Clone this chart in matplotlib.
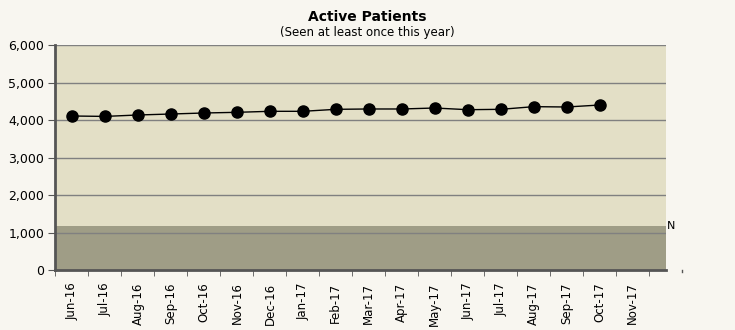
import numpy as np
import matplotlib.pyplot as plt
from matplotlib.ticker import FuncFormatter, FixedLocator

months = ["Jun-16", "Jul-16", "Aug-16", "Sep-16", "Oct-16", "Nov-16", "Dec-16",
          "Jan-17", "Feb-17", "Mar-17", "Apr-17", "May-17", "Jun-17", "Jul-17",
          "Aug-17", "Sep-17", "Oct-17", "Nov-17"]
active = [4107, 4096, 4134, 4160, 4187, 4205, 4232, 4232, 4285, 4294,
          4294, 4320, 4275, 4285, 4356, 4347, 4400]
threshold = 1173
y_ticks = [0, 1000, 2000, 3000, 4000, 5000, 6000]

fig = plt.figure(figsize=(7.35, 3.30), dpi=100)
fig.patch.set_facecolor("#f8f6f0")
ax = fig.add_axes([0.0755, 0.1818, 0.8302, 0.6818])
ax.set_facecolor("#e3dfc6")

x = np.arange(len(active))
ax.axhspan(0, threshold, color="#9f9d86", zorder=1, lw=0)
for v in y_ticks[1:]:
    ax.axhline(v, color="#808080", lw=1, zorder=2)
ax.plot(x, active, "-", color="black", lw=1, zorder=3)
ax.plot(x, active, "o", color="black", ms=8, zorder=4)

ax.set_xlim(-0.5, 18.0)
ax.set_ylim(0, 6000)
ax.set_yticks(y_ticks)
ax.yaxis.set_major_formatter(FuncFormatter(lambda v, p: f"{int(v):,}"))
ax.set_xticks(np.arange(len(months)))
ax.set_xticklabels(months, rotation=90, fontsize=8.5)
ax.tick_params(axis="x", which="major", length=0, pad=9)
ax.xaxis.set_minor_locator(FixedLocator(np.arange(-0.5, 18.0, 1.0)))
ax.tick_params(axis="x", which="minor", length=4, color="#555555")
ax.tick_params(axis="y", length=5, color="#555555", labelsize=9, pad=3)

for side in ["top", "right"]:
    ax.spines[side].set_visible(False)
ax.spines["left"].set_color("#555555")
ax.spines["left"].set_linewidth(2)
ax.spines["bottom"].set_color("#555555")
ax.spines["bottom"].set_linewidth(2)

# stray tick beyond the plot area
ax.plot([18.5, 18.5], [0, -50], color="#555555", lw=1, clip_on=False)
ax.text(18.05, threshold, "N", fontsize=8, va="center", ha="left")

fig.text(0.5, 0.935, "Active Patients", ha="center", fontsize=10, fontweight="bold")
fig.text(0.5, 0.89, "(Seen at least once this year)", ha="center", fontsize=8.5)

fig.savefig("out.png", dpi=100, facecolor=fig.get_facecolor())
